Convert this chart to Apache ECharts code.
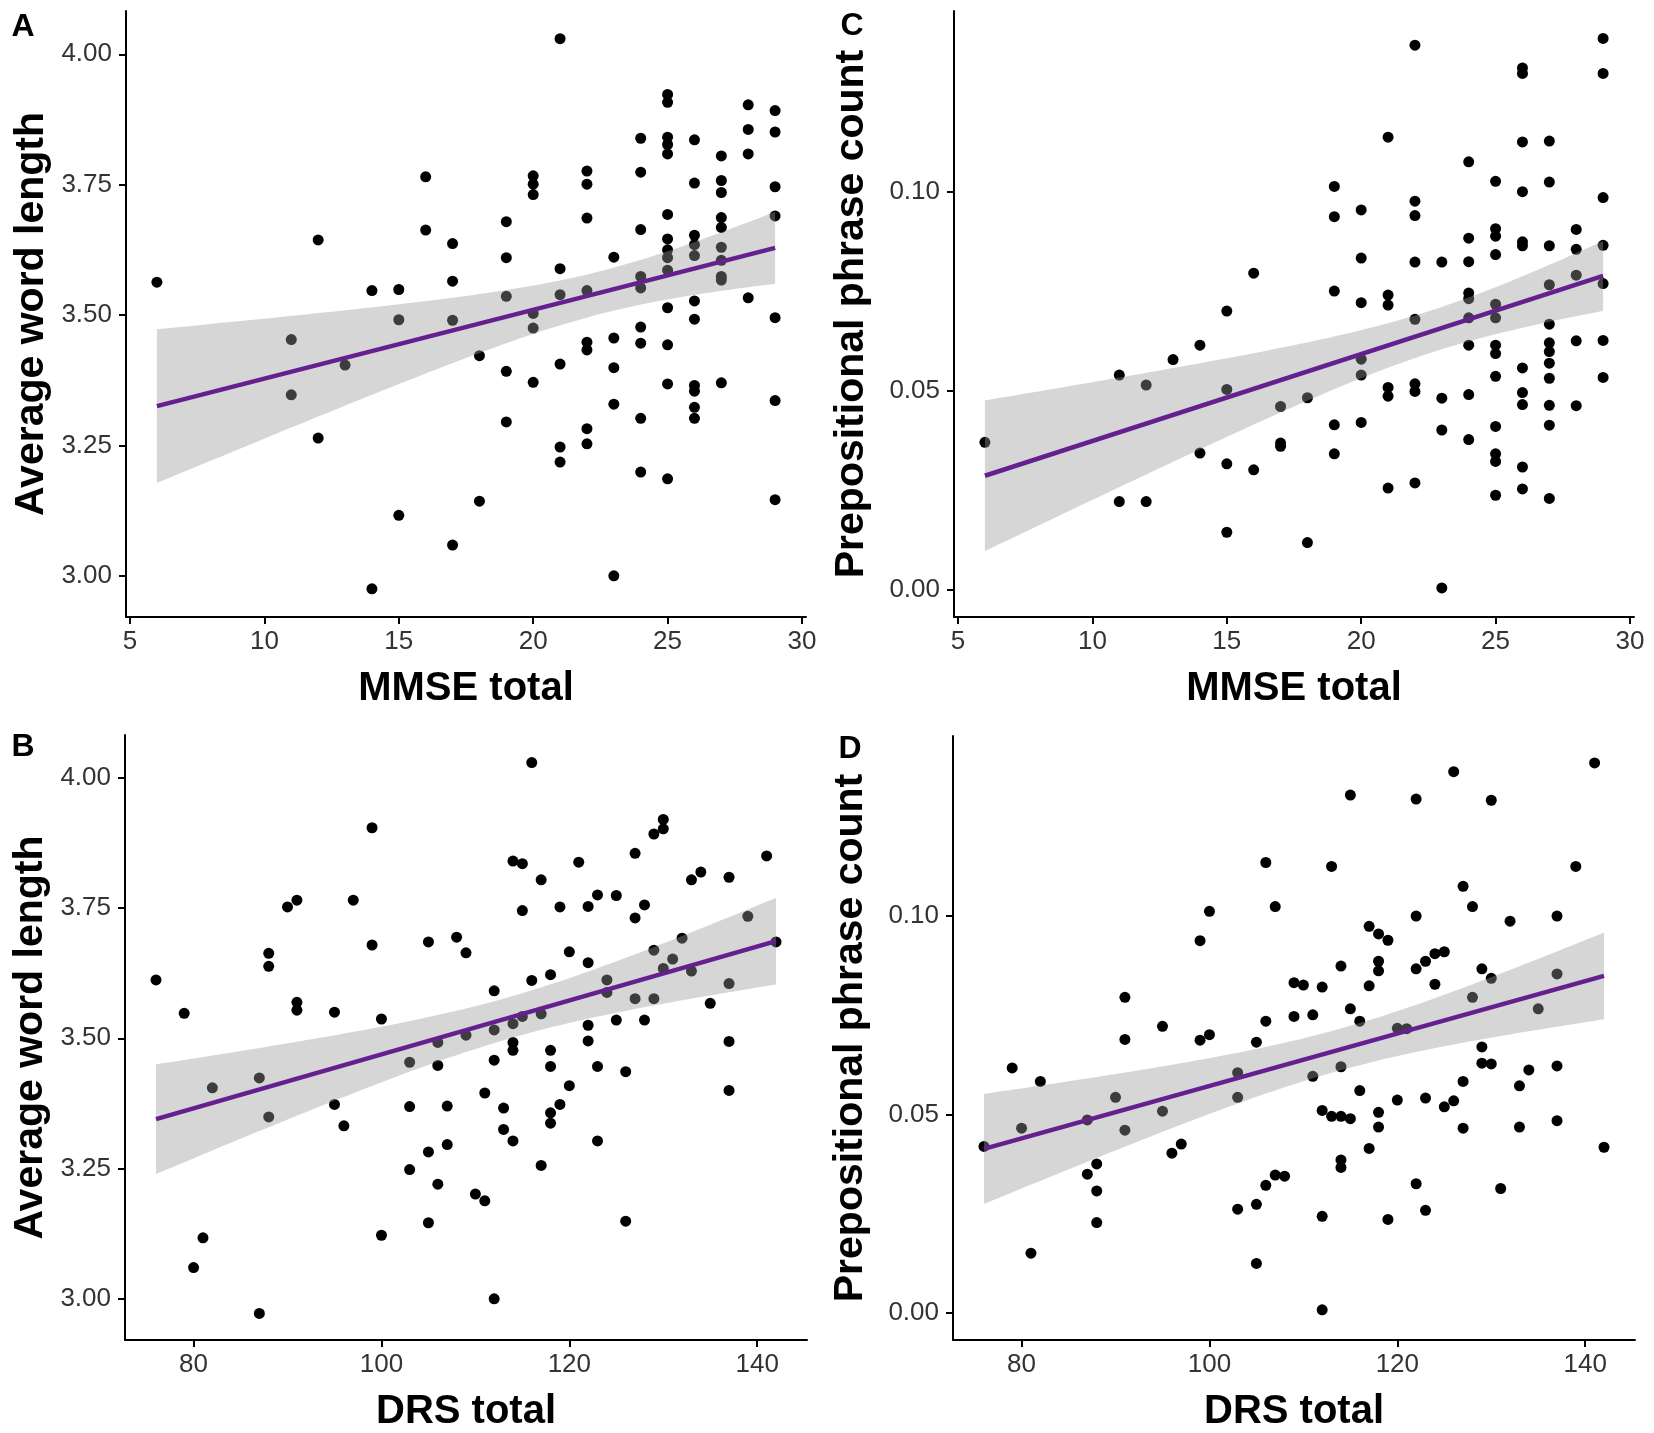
<!DOCTYPE html>
<html>
<head>
<meta charset="utf-8">
<script src="https://cdn.jsdelivr.net/npm/echarts@6/dist/echarts.min.js"></script>
<style>
html,body{margin:0;padding:0;background:#fff;}
#chart{width:1654px;height:1433px;}
</style>
</head>
<body>
<div id="chart"></div>
<script>
// ---- Data ----
// Panel A: MMSE total vs Average word length
const panelA = [
[6,3.563],
[11,3.453],[11,3.347],
[12,3.644],[12,3.264],
[13,3.404],
[14,3.547],[14,2.975],
[15,3.549],[15,3.491],[15,3.116],
[16,3.765],[16,3.663],
[17,3.637],[17,3.565],[17,3.490],[17,3.059],
[18,3.422],[18,3.143],
[19,3.679],[19,3.610],[19,3.536],[19,3.392],[19,3.295],
[20,3.767],[20,3.751],[20,3.731],[20,3.503],[20,3.475],[20,3.371],
[21,4.030],[21,3.589],[21,3.539],[21,3.406],[21,3.247],[21,3.218],
[22,3.776],[22,3.751],[22,3.686],[22,3.547],[22,3.448],[22,3.433],[22,3.282],[22,3.253],
[23,3.611],[23,3.456],[23,3.399],[23,3.329],[23,3.000],
[24,3.839],[24,3.774],[24,3.664],[24,3.574],[24,3.552],[24,3.477],[24,3.446],[24,3.302],[24,3.199],
[25,3.923],[25,3.908],[25,3.841],[25,3.827],[25,3.809],[25,3.693],[25,3.646],[25,3.625],[25,3.610],[25,3.586],[25,3.514],[25,3.443],[25,3.368],[25,3.186],
[26,3.836],[26,3.753],[26,3.653],[26,3.635],[26,3.614],[26,3.527],[26,3.492],[26,3.365],[26,3.354],[26,3.323],[26,3.302],
[27,3.805],[27,3.758],[27,3.735],[27,3.687],[27,3.668],[27,3.630],[27,3.605],[27,3.574],[27,3.567],[27,3.370],
[28,3.903],[28,3.856],[28,3.809],[28,3.533],
[29,3.892],[29,3.851],[29,3.746],[29,3.690],[29,3.495],[29,3.336],[29,3.146]
];

// Panel C: MMSE total vs Prepositional phrase count
const panelC = [
[6,0.0370],
[11,0.0539],[11,0.0221],
[12,0.0514],[12,0.0221],
[13,0.0578],
[14,0.0614],[14,0.0343],
[15,0.0700],[15,0.0503],[15,0.0316],[15,0.0144],
[16,0.0795],[16,0.0301],
[17,0.0460],[17,0.0368],[17,0.0360],
[18,0.0482],[18,0.0118],
[19,0.1013],[19,0.0937],[19,0.0750],[19,0.0414],[19,0.0341],
[20,0.0954],[20,0.0833],[20,0.0721],[20,0.0579],[20,0.0539],[20,0.0420],
[21,0.1137],[21,0.0740],[21,0.0715],[21,0.0508],[21,0.0486],[21,0.0255],
[22,0.1368],[22,0.0976],[22,0.0940],[22,0.0823],[22,0.0679],[22,0.0517],[22,0.0498],[22,0.0268],
[23,0.0823],[23,0.0481],[23,0.0401],[23,0.0004],
[24,0.1075],[24,0.0883],[24,0.0824],[24,0.0745],[24,0.0731],[24,0.0683],[24,0.0614],[24,0.0490],[24,0.0377],
[25,0.1026],[25,0.0907],[25,0.0888],[25,0.0842],[25,0.0717],[25,0.0683],[25,0.0614],[25,0.0593],[25,0.0536],[25,0.0410],[25,0.0341],[25,0.0322],[25,0.0237],
[26,0.1311],[26,0.1297],[26,0.1125],[26,0.1000],[26,0.0874],[26,0.0864],[26,0.0557],[26,0.0495],[26,0.0465],[26,0.0308],[26,0.0253],
[27,0.1127],[27,0.1024],[27,0.0864],[27,0.0766],[27,0.0667],[27,0.0620],[27,0.0598],[27,0.0569],[27,0.0531],[27,0.0463],[27,0.0413],[27,0.0229],
[28,0.0905],[28,0.0855],[28,0.0790],[28,0.0625],[28,0.0462],
[29,0.1385],[29,0.1297],[29,0.0985],[29,0.0865],[29,0.0769],[29,0.0626],[29,0.0533]
];

// Panel B: DRS total vs Average word length
const panelB = [
[76,3.612],[79,3.548],[80,3.060],[81,3.117],[82,3.405],
[87,3.424],[87,2.972],
[88,3.663],[88,3.638],[88,3.349],
[90,3.752],
[91,3.765],[91,3.569],[91,3.554],
[95,3.550],[95,3.373],[96,3.332],[97,3.765],
[99,3.904],[99,3.679],
[100,3.537],[100,3.122],
[103,3.454],[103,3.369],[103,3.248],
[105,3.685],[105,3.282],[105,3.146],
[106,3.492],[106,3.448],[106,3.220],
[107,3.370],[107,3.296],
[108,3.694],
[109,3.664],[109,3.506],
[110,3.201],
[111,3.395],[111,3.188],
[112,3.591],[112,3.516],[112,3.458],[112,3.000],
[113,3.366],[113,3.325],
[114,3.840],[114,3.528],[114,3.492],[114,3.477],[114,3.303],
[115,3.835],[115,3.745],[115,3.542],
[116,4.029],[116,3.611],
[117,3.804],[117,3.547],[117,3.256],
[118,3.622],[118,3.477],[118,3.446],[118,3.357],[118,3.337],
[119,3.752],[119,3.373],
[120,3.666],[120,3.409],
[121,3.838],
[122,3.753],[122,3.645],[122,3.525],[122,3.495],
[123,3.775],[123,3.446],[123,3.303],
[124,3.612],[124,3.588],
[125,3.774],[125,3.535],
[126,3.436],[126,3.149],
[127,3.855],[127,3.731],[127,3.576],
[128,3.756],[128,3.535],
[129,3.892],[129,3.669],[129,3.576],
[130,3.920],[130,3.902],[130,3.634],
[131,3.652],[132,3.692],
[133,3.804],[133,3.629],
[134,3.819],[135,3.567],
[137,3.809],[137,3.605],[137,3.494],[137,3.400],
[139,3.734],[141,3.850],[142,3.685]
];

// Panel D: DRS total vs Prepositional phrase count
const panelD = [
[76,0.0419],[79,0.0617],[80,0.0465],[81,0.0150],[82,0.0583],
[87,0.0486],[87,0.0349],
[88,0.0375],[88,0.0307],[88,0.0227],
[90,0.0543],
[91,0.0795],[91,0.0689],[91,0.0460],
[95,0.0722],[95,0.0508],[96,0.0402],[97,0.0425],
[99,0.0938],[99,0.0687],
[100,0.1012],[100,0.0701],
[103,0.0605],[103,0.0543],[103,0.0261],
[105,0.0682],[105,0.0273],[105,0.0124],
[106,0.1135],[106,0.0735],[106,0.0321],
[107,0.1024],[107,0.0347],
[108,0.0344],
[109,0.0832],[109,0.0747],
[110,0.0826],
[111,0.0751],[111,0.0596],
[112,0.0821],[112,0.0510],[112,0.0243],[112,0.0007],
[113,0.1125],[113,0.0495],
[114,0.0874],[114,0.0620],[114,0.0495],[114,0.0385],[114,0.0366],
[115,0.1305],[115,0.0766],[115,0.0489],
[116,0.0735],[116,0.0560],
[117,0.0974],[117,0.0824],[117,0.0414],
[118,0.0955],[118,0.0886],[118,0.0862],[118,0.0505],[118,0.0468],
[119,0.0939],[119,0.0235],
[120,0.0717],[120,0.0536],
[121,0.0716],
[122,0.1295],[122,0.1000],[122,0.0867],[122,0.0325],
[123,0.0886],[123,0.0541],[123,0.0258],
[124,0.0905],[124,0.0828],
[125,0.0910],[125,0.0519],
[126,0.1364],[126,0.0534],
[127,0.1075],[127,0.0583],[127,0.0465],
[128,0.1024],[128,0.0795],
[129,0.0867],[129,0.0670],[129,0.0629],
[130,0.1292],[130,0.0843],[130,0.0627],
[131,0.0313],[132,0.0987],
[133,0.0572],[133,0.0468],
[134,0.0612],[135,0.0766],
[137,0.1000],[137,0.0854],[137,0.0622],[137,0.0484],
[139,0.1125],[141,0.1386],[142,0.0417]
];

// Tick labels
const mmseTicks = [5, 10, 15, 20, 25, 30];
const drsTicks = [80, 100, 120, 140];
const awlTicks = [3.00, 3.25, 3.50, 3.75, 4.00];
const ppcTicks = [0.00, 0.05, 0.10];

// Titles
const xTitles = ['MMSE total', 'DRS total', 'MMSE total', 'DRS total'];
const yTitles = ['Average word length', 'Average word length', 'Prepositional phrase count', 'Prepositional phrase count'];
const panelLetters = ['A', 'B', 'C', 'D'];

// ---- Linear model fit with 95% confidence band (as geom_smooth(method = "lm")) ----
function lmFit(pts, steps) {
  const n = pts.length;
  let mx = 0, my = 0;
  pts.forEach(p => { mx += p[0]; my += p[1]; });
  mx /= n; my /= n;
  let sxx = 0, sxy = 0;
  pts.forEach(p => { sxx += (p[0]-mx)*(p[0]-mx); sxy += (p[0]-mx)*(p[1]-my); });
  const b = sxy / sxx, a = my - b*mx;
  let sse = 0;
  pts.forEach(p => { const r = p[1] - (a + b*p[0]); sse += r*r; });
  const s = Math.sqrt(sse / (n - 2));
  const t = 1.984;
  const xs = pts.map(p => p[0]);
  const xmin = Math.min.apply(null, xs), xmax = Math.max.apply(null, xs);
  const band = [];
  for (let i = 0; i < steps; i++) {
    const x = xmin + (xmax - xmin) * i / (steps - 1);
    const yh = a + b*x;
    const se = s * Math.sqrt(1/n + (x-mx)*(x-mx)/sxx);
    band.push([x, yh - t*se, yh + t*se, yh]);
  }
  return band;
}

const FONT = 'Liberation Sans, Arial, Helvetica, sans-serif';
const panels = [
  {pts: panelA, grid: {left:126, top:11, width:680, height:606}, xr:[4.85,30.15], yr:[2.921,4.083], xt: mmseTicks, yt: awlTicks, yDec:2, yGap:74},
  {pts: panelB, grid: {left:125, top:735, width:682, height:606}, xr:[72.7,145.3], yr:[2.921,4.082], xt: drsTicks, yt: awlTicks, yDec:2, yGap:74},
  {pts: panelC, grid: {left:954, top:11, width:680, height:606}, xr:[4.85,30.15], yr:[-0.0069,0.1454], xt: mmseTicks, yt: ppcTicks, yDec:2, yGap:82},
  {pts: panelD, grid: {left:953, top:736, width:682, height:605}, xr:[72.7,145.3], yr:[-0.0069,0.1454], xt: drsTicks, yt: ppcTicks, yDec:2, yGap:82}
];
const letterPos = [[23,27],[23,747],[852,26],[850,749]];

const axisLineStyle = {color:'#000', width:2};
const grids = [], xAxes = [], yAxes = [], series = [], graphics = [];

panels.forEach((p, i) => {
  grids.push(Object.assign({containLabel:false}, p.grid));
  xAxes.push({
    gridIndex: i, type: 'value', min: p.xr[0], max: p.xr[1],
    axisLine: {show:true, onZero:false, lineStyle: axisLineStyle},
    axisTick: {show:true, length:7, lineStyle: axisLineStyle, customValues: p.xt},
    axisLabel: {customValues: p.xt, fontSize: 26, color:'#333', fontFamily: FONT, margin: 12,
                formatter: v => String(v)},
    splitLine: {show:false},
    name: xTitles[i], nameLocation: 'middle', nameGap: 52,
    nameTextStyle: {fontSize: 40, fontWeight:'bold', color:'#000', fontFamily: FONT}
  });
  yAxes.push({
    gridIndex: i, type: 'value', min: p.yr[0], max: p.yr[1],
    axisLine: {show:true, onZero:false, lineStyle: axisLineStyle},
    axisTick: {show:true, length:7, lineStyle: axisLineStyle, customValues: p.yt},
    axisLabel: {customValues: p.yt, fontSize: 26, color:'#333', fontFamily: FONT, margin: 14,
                formatter: v => Number(v).toFixed(p.yDec)},
    splitLine: {show:false},
    name: yTitles[i], nameLocation: 'middle', nameGap: p.yGap, nameRotate: 90,
    nameTextStyle: {fontSize: 41, fontWeight:'bold', color:'#000', fontFamily: FONT}
  });

  const band = lmFit(p.pts, 80);
  series.push({
    type: 'scatter', xAxisIndex: i, yAxisIndex: i, data: p.pts,
    symbol: 'circle', symbolSize: 11, itemStyle: {color:'#000', opacity: 1}, silent: true, z: 2, animation:false
  });
  series.push({
    type: 'custom', xAxisIndex: i, yAxisIndex: i, data: band, z: 3, silent: true, animation:false,
    encode: {x: 0, y: [1, 2]},
    renderItem: function (params, api) {
      if (params.dataIndex !== 0) return null;
      const upper = band.map(d => api.coord([d[0], d[2]]));
      const lower = band.map(d => api.coord([d[0], d[1]])).reverse();
      return {type: 'polygon', shape: {points: upper.concat(lower)},
              style: {fill: 'rgba(153,153,153,0.4)', stroke: null}};
    }
  });
  series.push({
    type: 'line', xAxisIndex: i, yAxisIndex: i,
    data: [[band[0][0], band[0][3]], [band[band.length-1][0], band[band.length-1][3]]],
    showSymbol: false, symbol: 'none', silent: true, z: 4, animation:false,
    lineStyle: {color:'#65208F', width: 4.5}
  });

  graphics.push({
    type: 'text', x: letterPos[i][0], y: letterPos[i][1],
    style: {text: panelLetters[i], fontSize: 32, fontWeight: 'bold', fill:'#000', fontFamily: FONT,
            textAlign:'center', textVerticalAlign:'middle'}
  });
});

const chart = echarts.init(document.getElementById('chart'), null, {renderer:'canvas'});
chart.setOption({
  backgroundColor: '#fff',
  animation: false,
  grid: grids, xAxis: xAxes, yAxis: yAxes, series: series, graphic: graphics
});
</script>
</body>
</html>
